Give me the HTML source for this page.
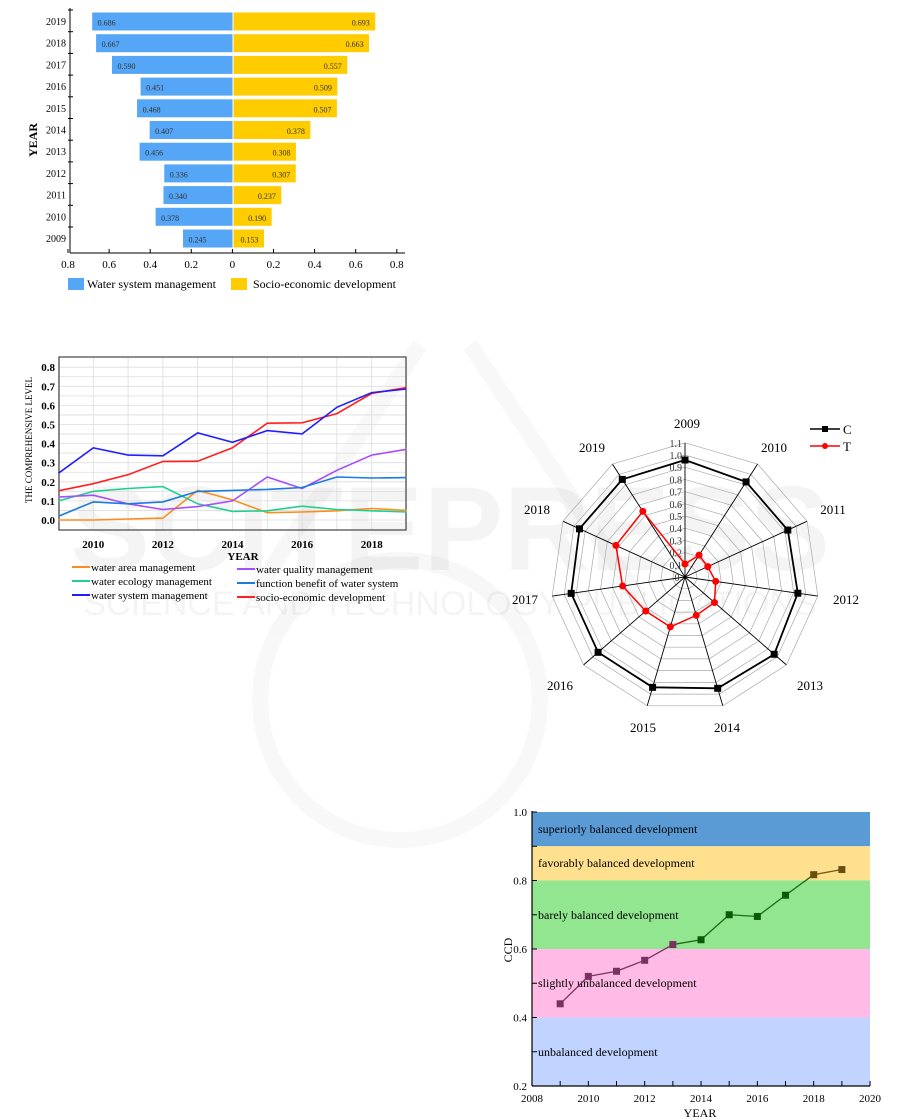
<!DOCTYPE html>
<html><head><meta charset="utf-8"><style>
html,body{margin:0;padding:0;background:#fff;}
svg{display:block;font-family:"Liberation Serif",serif;}
</style></head><body>
<svg id="s" width="901" height="1120" viewBox="0 0 901 1120" xmlns="http://www.w3.org/2000/svg">
<g opacity="0.06" fill="none" stroke="#888" stroke-width="16">
<path d="M420 345 L250 600 M470 345 L640 600"/>
<circle cx="400" cy="700" r="140"/>
</g>
<text x="450" y="570" font-family="Liberation Sans,sans-serif" font-size="120" font-weight="bold" fill="#000" opacity="0.04" text-anchor="middle">SCITEPRESS</text>
<text x="450" y="615" font-family="Liberation Sans,sans-serif" font-size="34" fill="#000" opacity="0.04" text-anchor="middle">SCIENCE AND TECHNOLOGY PUBLICATIONS</text>
<g id="g"></g>
</svg>
<script>
(function(){
var g=document.getElementById('g');var h='';
function T(x,y,t,o){o=o||{};h+='<text x="'+x+'" y="'+y+'" font-size="'+(o.fs||11)+'" fill="'+(o.c||'#000')+'" text-anchor="'+(o.a||'start')+'"'+(o.w?' font-weight="bold"':'')+(o.r?' transform="rotate(-90 '+x+' '+y+')"':'')+'>'+t+'</text>';}
function L(x1,y1,x2,y2,c,w){h+='<line x1="'+x1+'" y1="'+y1+'" x2="'+x2+'" y2="'+y2+'" stroke="'+(c||'#000')+'" stroke-width="'+(w||1)+'"/>';}
function R(x,y,w,hh,c,s){h+='<rect x="'+x+'" y="'+y+'" width="'+w+'" height="'+hh+'" fill="'+c+'"'+(s?' stroke="'+s+'"':'')+'/>';}
function P(pts,c,w,cl){h+='<'+(cl?'polygon':'polyline')+' points="'+pts.map(function(p){return p[0].toFixed(1)+','+p[1].toFixed(1)}).join(' ')+'" fill="none" stroke="'+c+'" stroke-width="'+(w||1)+'"/>';}
var yrs=[2009,2010,2011,2012,2013,2014,2015,2016,2017,2018,2019];
// ---- Chart 1 ----
var ws=[0.245,0.378,0.340,0.336,0.456,0.407,0.468,0.451,0.590,0.667,0.686];
var se=[0.153,0.190,0.237,0.307,0.308,0.378,0.507,0.509,0.557,0.663,0.693];
var cx=233,sc=206;
for(var i=0;i<11;i++){var k=10-i;var ty=12+i*21.7;
R(cx-ws[k]*sc,ty,ws[k]*sc,19,'#55a6f6','#fff');R(cx,ty,se[k]*sc,19,'#ffcc00','#fff');
T(cx-ws[k]*sc+6,ty+13.5,ws[k].toFixed(3),{fs:8,c:'#333'});
T(cx+se[k]*sc-6,ty+13.5,se[k].toFixed(3),{fs:8,c:'#333',a:'end'});
T(66,ty+13,yrs[k],{fs:10,a:'end'});L(68,ty-2,73,ty-2);}
L(70,8,70,253);L(70,253,405,253);
var xl=[0.8,0.6,0.4,0.2,0,0.2,0.4,0.6,0.8];
for(var i=0;i<9;i++){var x=68+i*41.1;L(x,253,x,249);T(x,268,xl[i]===0?'0':xl[i].toFixed(1),{fs:11,a:'middle'});}
R(68,278,16,12,'#55a6f6');T(87,288,'Water system management',{fs:12});
R(231,278,16,12,'#ffcc00');T(253,288,'Socio-economic development',{fs:12});
T(37,140,'YEAR',{fs:12,w:1,r:1,a:'middle'});
// ---- Chart 2 ----
var L2=59,R2=406,T2=357,B2=530;
function X2(yr){return 58.5+(yr-2009)*34.8;}function Y2(v){return 520-v*191;}
for(var v=0;v<=0.8001;v+=0.05){L(L2,Y2(v),R2,Y2(v),'#ddd',0.8);}
for(var yr=2009;yr<=2019;yr++){L(X2(yr),T2,X2(yr),B2,'#ddd',0.8);}
h+='<rect x="'+L2+'" y="'+T2+'" width="'+(R2-L2)+'" height="'+(B2-T2)+'" fill="none" stroke="#444" stroke-width="1.2"/>';
for(var i=0;i<=8;i++){T(55,Y2(i/10)+4,(i/10).toFixed(1),{fs:11,a:'end',w:1});}
[2010,2012,2014,2016,2018].forEach(function(y){T(X2(y),548,y,{fs:11,a:'middle',w:1});});
T(243,560,'YEAR',{fs:11,a:'middle',w:1});
T(32,440,'THE COMPREHENSIVE LEVEL',{fs:9,r:1,a:'middle'});
var S2=[['#ff8c1a',[0,0,0.005,0.01,0.155,0.105,0.038,0.042,0.048,0.06,0.05]],
['#20d090',[0.10,0.15,0.165,0.175,0.085,0.045,0.048,0.072,0.055,0.048,0.042]],
['#a64dff',[0.12,0.13,0.085,0.055,0.07,0.10,0.225,0.165,0.26,0.34,0.37]],
['#1a7ae0',[0.02,0.095,0.085,0.095,0.15,0.155,0.16,0.17,0.225,0.22,0.222]],
['#ff2020',se],['#2020ff',ws]];
S2.forEach(function(s){P(s[1].map(function(v,i){return [X2(2009+i),Y2(v)]}),s[0],1.6);});
var lg=[['#ff8c1a','water area management',72,571],['#20d090','water ecology management',72,585],['#2020ff','water system management',72,599],
['#a64dff','water quality management',237,573],['#1a7ae0','function benefit of water system',237,587],['#ff2020','socio-economic development',237,601]];
lg.forEach(function(l){L(l[2],l[3]-4,l[2]+18,l[3]-4,l[0],2);T(l[2]+19,l[3],l[1],{fs:11});});
// ---- Radar ----
var rx=685,ry=577;
function pt(i,r){var a=i*2*Math.PI/11;return [rx+r*Math.sin(a),ry-r*Math.cos(a)];}
for(var k=1;k<=11;k++){var pp=[];for(var i=0;i<11;i++)pp.push(pt(i,k*12.2));P(pp,'#aaa',0.7,1);}
for(var i=0;i<11;i++){var p=pt(i,134);L(rx,ry,p[0],p[1],'#000',0.9);}
for(var k=0;k<=11;k++){T(rx-3,ry-k*12.2+4,k===0?'0.':(k/10).toFixed(1),{fs:10,a:'end',c:'#333'});}
var Cr=[117,113,113,114,118,116,115,115,115,116,116];
var Tr=[13,26,25,31,39,40,52,52,63,76,78];
var cp=Cr.map(function(r,i){return pt(i,r)});P(cp,'#000',1.8,1);
cp.forEach(function(p){R(p[0]-3.5,p[1]-3.5,7,7,'#000');});
var tp=Tr.map(function(r,i){return pt(i,r)});P(tp,'#ff0000',1.5,1);
tp.forEach(function(p){h+='<circle cx="'+p[0]+'" cy="'+p[1]+'" r="3.5" fill="#ff0000"/>';});
var yl=[[687,423],[774,447],[833,509],[846,599],[810,685],[727,727],[643,727],[560,685],[525,599],[537,509],[592,447]];
yl.forEach(function(p,i){T(p[0],p[1]+5,yrs[i],{fs:13,a:'middle'});});
L(810,429,840,429,'#000',1.5);R(822,426,6,6,'#000');T(843,434,'C',{fs:13});
L(810,446,840,446,'#ff0000',1.5);h+='<circle cx="825" cy="446" r="3" fill="#ff0000"/>';T(843,451,'T',{fs:13});
// ---- Chart 4 ----
function X4(yr){return 532+(yr-2008)*28.17;}function Y4(v){return 1086-(v-0.2)*342.5;}
var bands=[[0.9,1.0,'#5b9bd5'],[0.8,0.9,'#ffe08f'],[0.6,0.8,'#92e690'],[0.4,0.6,'#ffbbe6'],[0.2,0.4,'#c0d4ff']];
bands.forEach(function(b){R(532,Y4(b[1]),338,Y4(b[0])-Y4(b[1]),b[2]);});
L(532,811,532,1086,'#000',1.2);L(532,1086,870,1086,'#000',1.2);
for(var v=0.2;v<=1.001;v+=0.1){L(532,Y4(v),537,Y4(v));}
[0.2,0.4,0.6,0.8,1.0].forEach(function(v){T(527,Y4(v)+4,v.toFixed(1),{fs:11,a:'end'});});
for(var y=2008;y<=2020;y++){L(X4(y),1086,X4(y),1081);}
for(var y=2008;y<=2020;y+=2)T(X4(y),1102,y,{fs:11,a:'middle'});
T(700,1117,'YEAR',{fs:12,a:'middle'});
T(512,950,'CCD',{fs:12,r:1,a:'middle'});
T(538,833,'superiorly balanced development',{fs:12});
T(538,867,'favorably balanced development',{fs:12});
T(538,919,'barely balanced development',{fs:12});
T(538,987,'slightly unbalanced development',{fs:12});
T(538,1056,'unbalanced development',{fs:12});
var cc=[0.44,0.52,0.535,0.567,0.613,0.627,0.7,0.695,0.757,0.817,0.832];
var cpts=cc.map(function(v,i){return [X4(2009+i),Y4(v)]});
for(var i=0;i<10;i++){var c=i<4?'#7a3060':(i<9?'#1a6a1a':'#7a5a10');L(cpts[i][0],cpts[i][1],cpts[i+1][0],cpts[i+1][1],c,1.3);}
cpts.forEach(function(p,i){var c=i<5?'#7a3060':(i<9?'#0a5a0a':'#6b4f10');R(p[0]-3.5,p[1]-3.5,7,7,c);});
g.innerHTML=h;
})();
</script>
</body></html>
